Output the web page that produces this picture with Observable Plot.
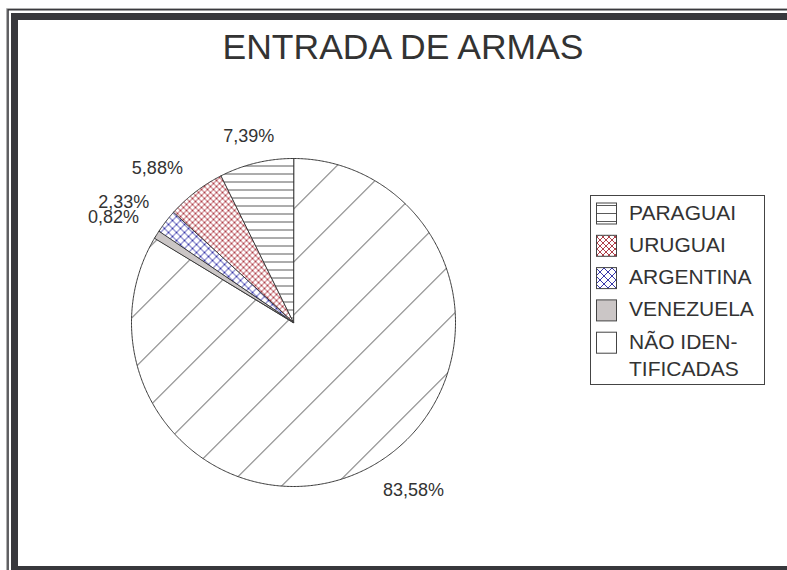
<!DOCTYPE html>
<html><head><meta charset="utf-8">
<script src="https://cdn.jsdelivr.net/npm/d3@7"></script>
<script src="https://cdn.jsdelivr.net/npm/@observablehq/plot@0.6"></script>
<style>
html,body{margin:0;padding:0;background:#fff;overflow:hidden;}
#wrap{position:relative;width:787px;height:570px;overflow:hidden;font-family:"Liberation Sans",Arial,sans-serif;}
#wrap > svg{position:absolute;left:0;top:0;}
</style></head><body><div id="wrap"></div>
<script>
// ---- data ----
const chartTitle = "ENTRADA DE ARMAS";
const categories = ["NÃO IDENTIFICADAS", "VENEZUELA", "ARGENTINA", "URUGUAI", "PARAGUAI"];
const values = [83.58, 0.82, 2.33, 5.88, 7.39];
const valueLabels = ["83,58%", "0,82%", "2,33%", "5,88%", "7,39%"];
const legendOrder = ["PARAGUAI", "URUGUAI", "ARGENTINA", "VENEZUELA", "NÃO IDENTIFICADAS"];
const legendLines = [["PARAGUAI"], ["URUGUAI"], ["ARGENTINA"], ["VENEZUELA"], ["NÃO IDEN-", "TIFICADAS"]];

// ---- styles ----
const FONT = "'Liberation Sans', Arial, sans-serif";
const fills = {
  "NÃO IDENTIFICADAS": "url(#p-nao)",
  "VENEZUELA": "#cbc6c6",
  "ARGENTINA": "url(#p-arg)",
  "URUGUAI": "url(#p-uru)",
  "PARAGUAI": "url(#p-par)"
};
const legendFills = Object.assign({}, fills, {"NÃO IDENTIFICADAS": "#fff"});

const W = 787, H = 570;
const cx = 293, cy = 322, rx = 162, ry = 164;
const labelFont = 18;

const wrap = document.getElementById("wrap");
const NS = "http://www.w3.org/2000/svg";

// ---- pie geometry via d3.pie ----
const arcs = d3.pie().sort(null).value(d => d)(values);
function slicePoints(a) {
  const pts = [{x: 0, y: 0}];
  const n = Math.max(2, Math.ceil((a.endAngle - a.startAngle) / (Math.PI / 360)));
  for (let i = 0; i <= n; i++) {
    const t = a.startAngle + (a.endAngle - a.startAngle) * i / n;
    pts.push({x: Math.sin(t), y: -Math.cos(t)});
  }
  return pts;
}

// label placement (Excel-like outside labels)
const ctx = document.createElement("canvas").getContext("2d");
ctx.font = `${labelFont}px ${FONT}`;
const gap = 21;
const capH = 0.72 * labelFont;
const f = t => Math.sign(t) * Math.min(1, Math.max(0, (Math.abs(t) - 0.2) / 0.3));
const labelData = arcs.map((a, i) => {
  const m = (a.startAngle + a.endAngle) / 2;
  const ux = Math.sin(m), uy = -Math.cos(m);
  const w = ctx.measureText(valueLabels[i]).width;
  const px = cx + (rx + gap) * ux + f(ux) * w / 2;
  const py = cy + (ry + gap) * uy + f(uy) * capH / 2;
  return {x: (px - cx) / rx, y: (py - cy) / ry, label: valueLabels[i]};
});

const marks = arcs.map((a, i) => Plot.line(slicePoints(a), {
  x: "x", y: "y", curve: "linear-closed",
  fill: fills[categories[i]], stroke: "#3a3a3a", strokeWidth: 1, strokeLinejoin: "round"
}));
marks.push(Plot.text(labelData, {
  x: "x", y: "y", text: "label", fontSize: labelFont, fill: "#333",
  textAnchor: "middle", lineAnchor: "middle"
}));

const plot = Plot.plot({
  width: W, height: H, margin: 0,
  x: {domain: [-1, 1], range: [cx - rx, cx + rx], axis: null},
  y: {domain: [-1, 1], range: [cy - ry, cy + ry], axis: null},
  style: {background: "transparent", fontFamily: FONT, overflow: "visible"},
  marks
});
wrap.appendChild(plot);

// ---- overlay: patterns, frame, title, legend ----
const ov = document.createElementNS(NS, "svg");
ov.setAttribute("width", W); ov.setAttribute("height", H);
ov.style.pointerEvents = "none";
ov.innerHTML = `
<defs>
  <pattern id="p-nao" patternUnits="userSpaceOnUse" width="53" height="53" x="24.7" y="0">
    <path d="M0,53L53,0M-3,3L3,-3M50,56L56,50" stroke="#444" stroke-width="1" fill="none"/>
  </pattern>
  <pattern id="p-par" patternUnits="userSpaceOnUse" width="8" height="8" x="0" y="0">
    <rect width="8" height="8" fill="#fff"/>
    <path d="M-1,5.5H9" stroke="#5a5a5a" stroke-width="1"/>
  </pattern>
  <pattern id="p-uru" patternUnits="userSpaceOnUse" width="6" height="6">
    <rect width="6" height="6" fill="#fff"/>
    <path d="M-1,-1L7,7M-1,7L7,-1" stroke="#b0404a" stroke-width="1"/>
  </pattern>
  <pattern id="p-arg" patternUnits="userSpaceOnUse" width="8" height="8">
    <rect width="8" height="8" fill="#fff"/>
    <path d="M-1,-1L9,9M-1,9L9,-1" stroke="#3838aa" stroke-width="1"/>
  </pattern>
</defs>`;
function el(tag, attrs, parent) {
  const e = document.createElementNS(NS, tag);
  for (const k in attrs) e.setAttribute(k, attrs[k]);
  (parent || ov).appendChild(e);
  return e;
}
// frame
el("path", {d: "M6.5,570V8.5H800", stroke: "#b0b0b0", "stroke-width": 1, fill: "none"});
el("path", {d: "M8,570V9.8H800", stroke: "#3a3a3e", "stroke-width": 1.6, fill: "none"});
el("rect", {x: 14.5, y: 16.5, width: 900, height: 553, fill: "none", stroke: "#38383c", "stroke-width": 7});
// title
const t = el("text", {x: 403, y: 59, "text-anchor": "middle", "font-size": 35.5, fill: "#333", "font-family": FONT});
t.textContent = chartTitle;
// legend
el("rect", {x: 590.5, y: 195.5, width: 174, height: 189, fill: "#fff", stroke: "#444", "stroke-width": 1});
const rowStep = 32.3, firstCenter = 212, lineStep = 27;
legendOrder.forEach((cat, i) => {
  const c = firstCenter + i * rowStep;
  el("rect", {x: 596.5, y: c + 1.5 - 10.5, width: 20, height: 21, fill: legendFills[cat], stroke: "#444", "stroke-width": 1});
  legendLines[i].forEach((ln, j) => {
    const tx = el("text", {x: 629, y: c + j * lineStep + 7.5, "font-size": 21, fill: "#333", "font-family": FONT});
    tx.textContent = ln;
  });
});
wrap.appendChild(ov);
</script>
</body></html>
